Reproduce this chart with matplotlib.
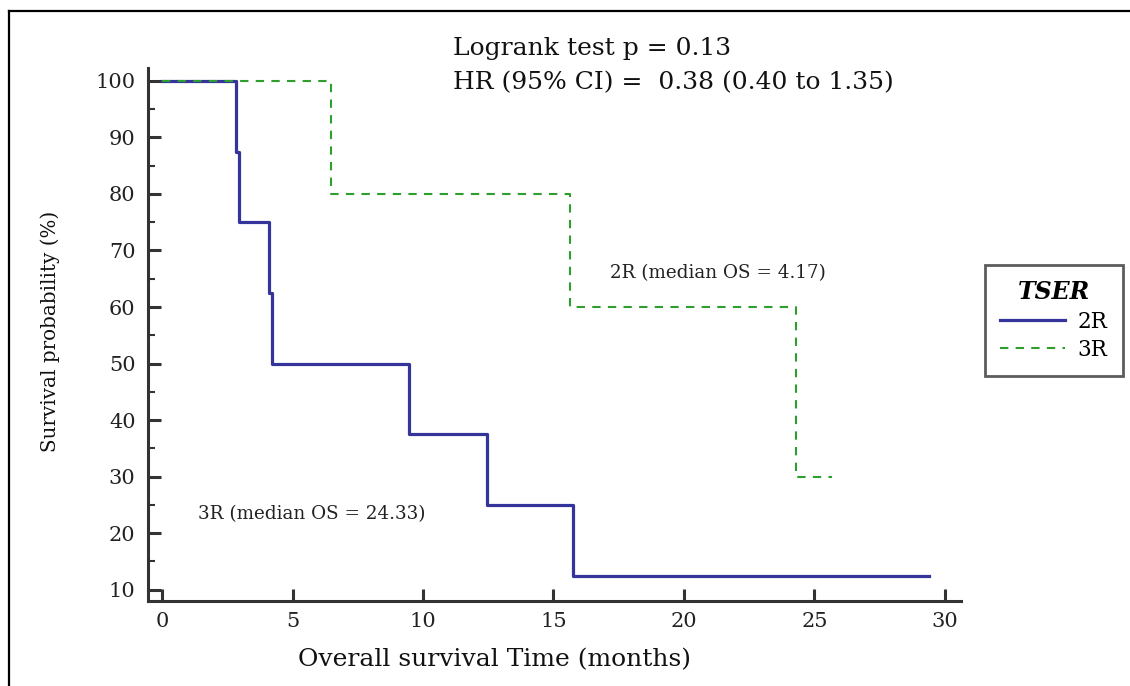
import matplotlib.pyplot as plt
from matplotlib.lines import Line2D

plt.rcParams['font.family'] = ['DejaVu Serif']

# Kaplan-Meier step data (time in months, survival in %)
t_2r = [0, 2.85, 2.93, 4.11, 4.2, 9.45, 12.45, 15.75, 29.4]
s_2r = [100, 87.5, 75, 62.5, 50, 37.5, 25, 12.5, 12.5]
t_3r = [0, 6.48, 15.63, 24.3, 25.67]
s_3r = [100, 80, 60, 30, 30]

xticks = [0, 5, 10, 15, 20, 25, 30]
yticks = [10, 20, 30, 40, 50, 60, 70, 80, 90, 100]

stats_text = "Logrank test p = 0.13\nHR (95% CI) =  0.38 (0.40 to 1.35)"
label_2r = "2R (median OS = 4.17)"
label_3r = "3R (median OS = 24.33)"

fig = plt.figure(figsize=(11.3, 6.86), dpi=100)
ax = fig.add_axes([0.131, 0.124, 0.719, 0.777])

blue = '#34349a'
green = '#2e9e2e'
axc = '#333333'

l2, = ax.step(t_2r, s_2r, where='post', color=blue, lw=2.3, label='2R')
l3, = ax.step(t_3r, s_3r, where='post', color=green, lw=1.5,
              linestyle=(0, (4, 3.5)), label='3R')

ax.set_xlim(-0.54, 30.6)
ax.set_ylim(8.0, 102.3)
ax.set_xticks(xticks)
ax.set_yticks(yticks)
ax.set_yticks(range(15, 100, 10), minor=True)

for s in ['top', 'right']:
    ax.spines[s].set_visible(False)
for s in ['left', 'bottom']:
    ax.spines[s].set_color(axc)
    ax.spines[s].set_linewidth(2.2)

ax.tick_params(axis='both', which='major', direction='in', length=9,
               width=2.2, color=axc, labelsize=15, labelcolor='#222222')
ax.tick_params(axis='y', which='minor', direction='in', length=5,
               width=1.5, color=axc)
ax.tick_params(axis='x', pad=8)
ax.tick_params(axis='y', pad=9)

ax.set_xlabel("Overall survival Time (months)", fontsize=18,
              color='#111111')
ax.xaxis.set_label_coords(0.427, -0.089)
ax.set_ylabel("Survival probability (%)", fontsize=14.3,
              color='#111111')
ax.yaxis.set_label_coords(-0.108, 0.505)

ax.text(11.15, 102.7, stats_text, fontsize=18, ha='left', va='center',
        linespacing=1.65, color='#111111')
ax.text(21.3, 66.0, label_2r, fontsize=13.2, ha='center', va='center',
        color='#222222')
ax.text(5.75, 23.3, label_3r, fontsize=13.2, ha='center', va='center',
        color='#222222')

leg = fig.legend(handles=[l2, l3], labels=['2R', '3R'], title='TSER',
                 loc='upper left', bbox_to_anchor=(985 / 1130, 1 - 265 / 686),
                 borderaxespad=0,
                 fontsize=15.5, title_fontproperties={'size': 17,
                                                      'weight': 'bold',
                                                      'style': 'italic'},
                 frameon=True, fancybox=False, edgecolor='#333333',
                 handlelength=3.0, handletextpad=0.6, borderpad=0.7,
                 labelspacing=0.3)
leg.get_frame().set_linewidth(2.0)

# outer frame lines (left and top)
fig.add_artist(Line2D([9 / 1130, 9 / 1130], [0, 1 - 11 / 686],
                      transform=fig.transFigure, color='black', lw=1.6))
fig.add_artist(Line2D([9 / 1130, 1], [1 - 11 / 686, 1 - 11 / 686],
                      transform=fig.transFigure, color='black', lw=1.6))

fig.savefig('out.png', dpi=100)
